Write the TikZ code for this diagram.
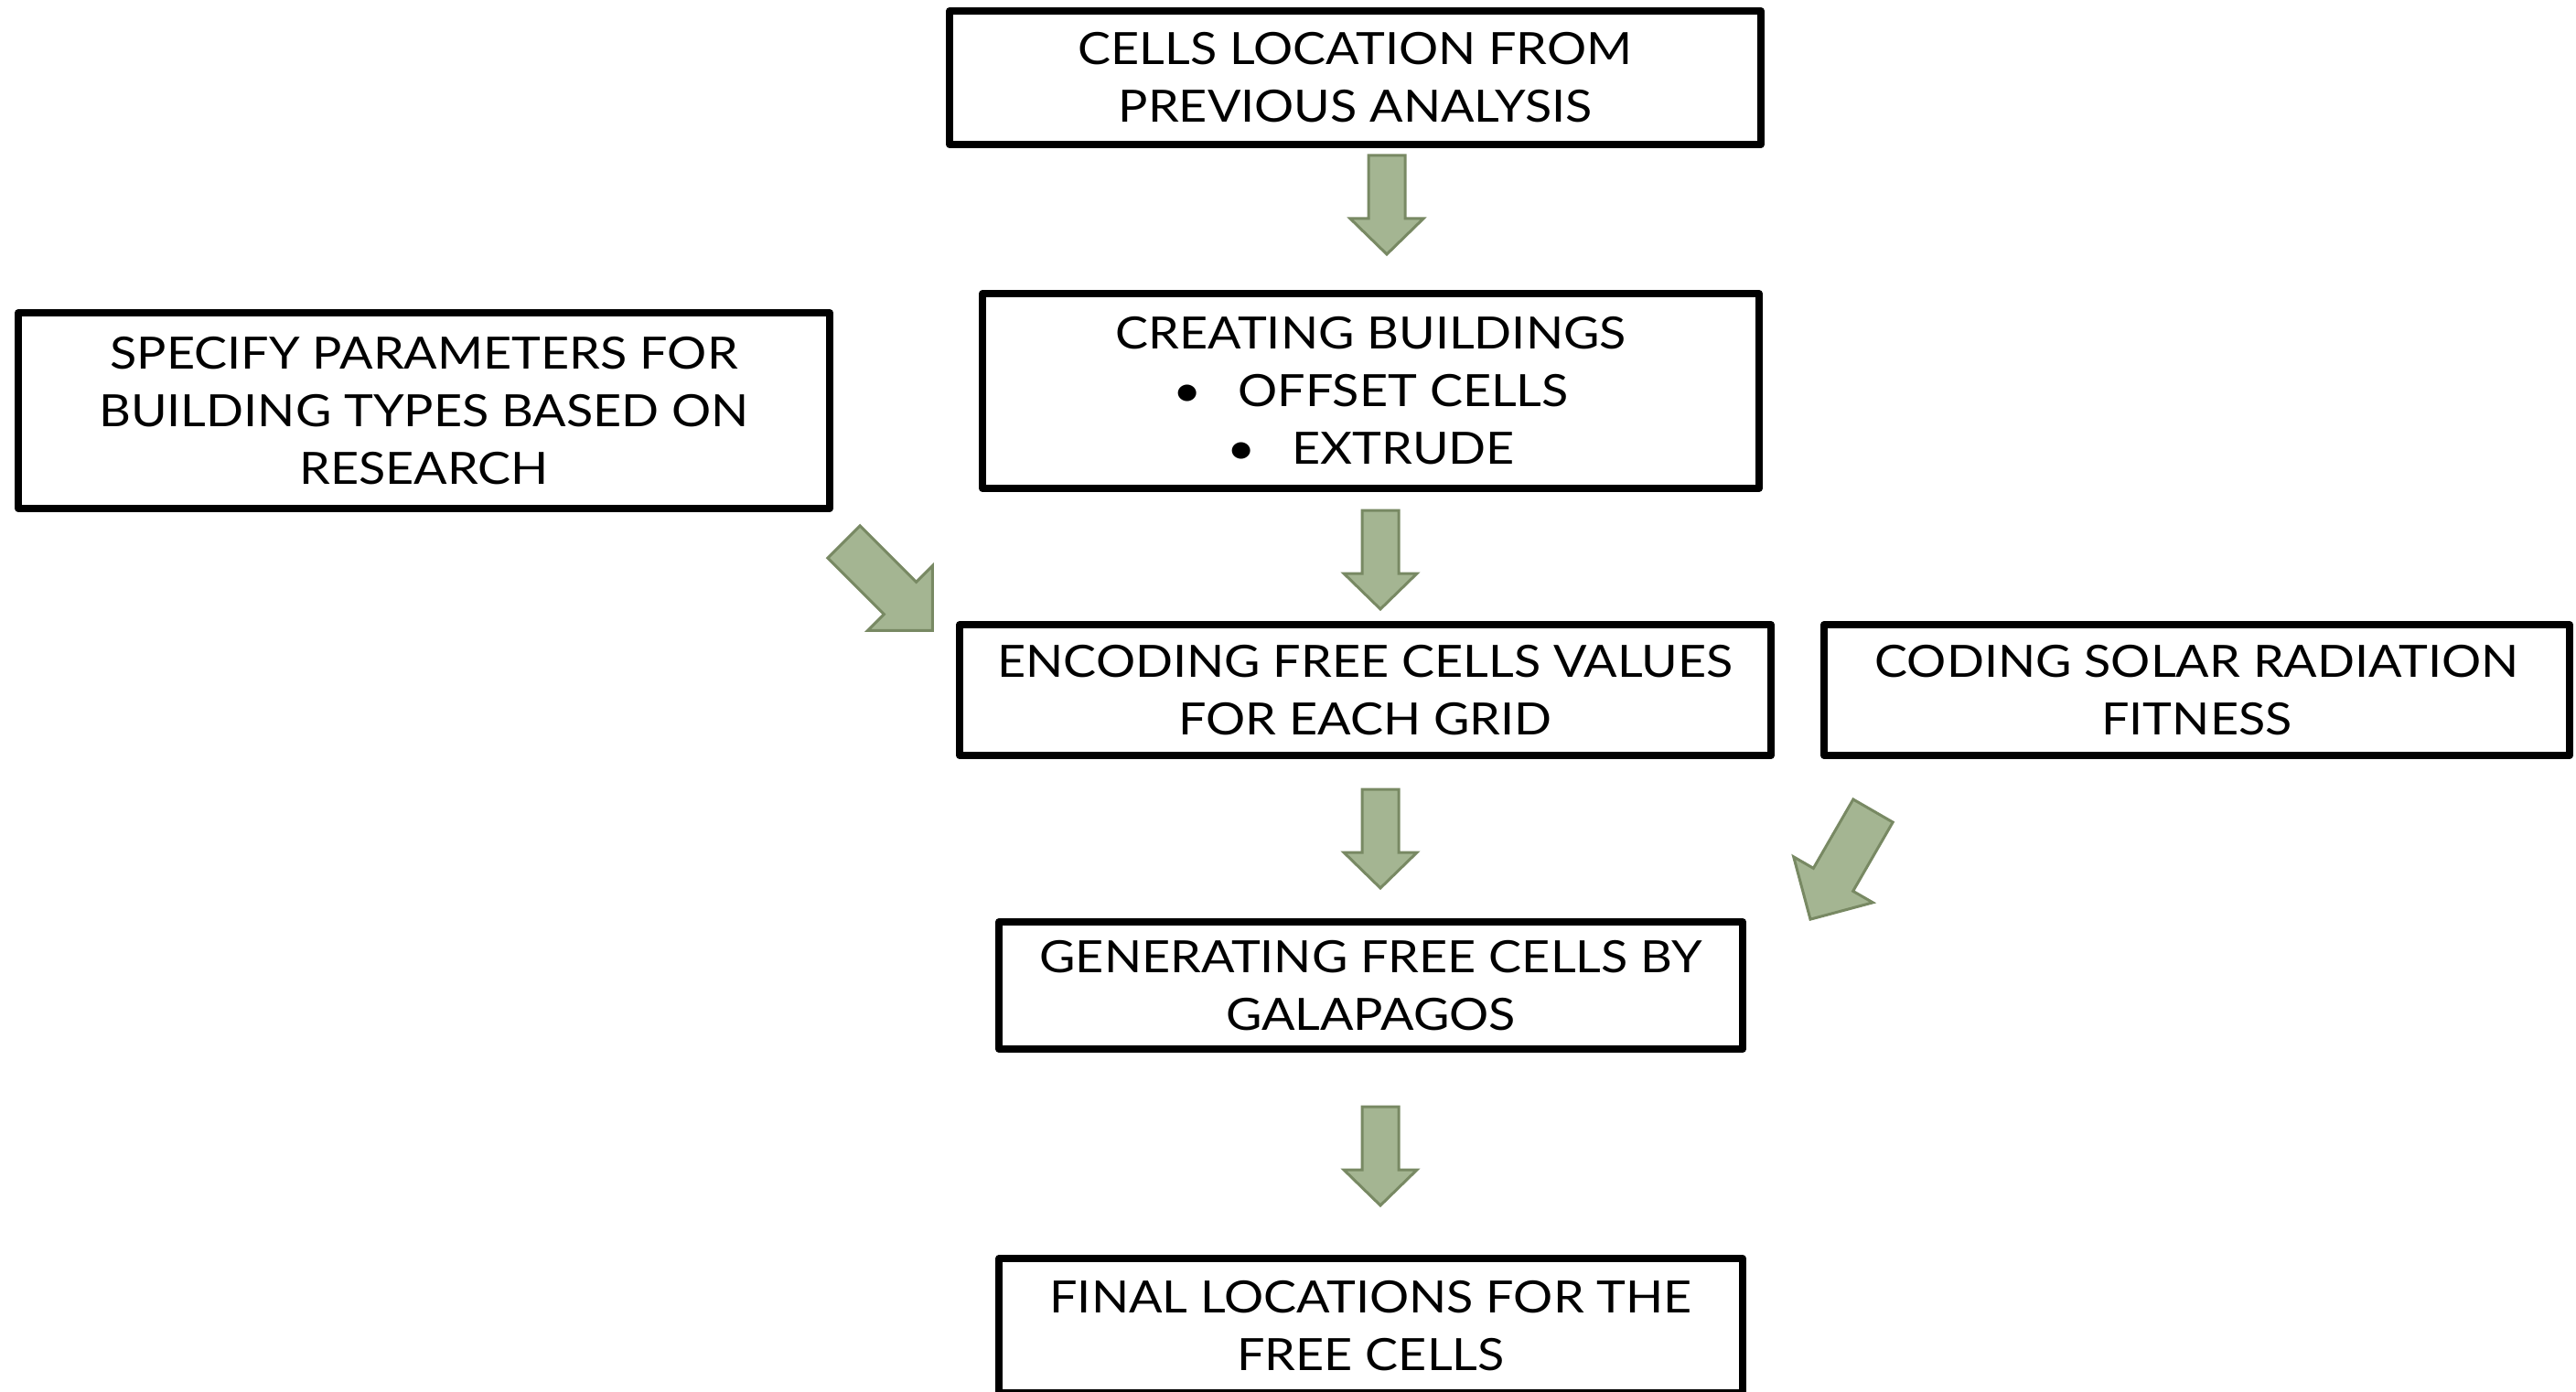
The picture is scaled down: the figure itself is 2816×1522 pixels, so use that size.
\documentclass[tikz,border=0pt]{standalone}
\usepackage{fontspec}
\setmainfont{Lato}[FakeStretch=1.11]
\definecolor{arrowfill}{RGB}{164,181,146}
\definecolor{arrowedge}{RGB}{120,137,99}
\tikzset{
  stepbox/.style={draw=black, line width=8pt, line join=round, rectangle, align=center,
    inner sep=0pt, font=\fontsize{48.6}{63}\selectfont},
  blockarrow/.style={fill=arrowfill, draw=arrowedge, line width=3pt, line join=miter},
  downarrow/.pic={
    \draw[blockarrow] (-20,0) -- (20,0) -- (20,69) -- (40,69) -- (0,108)
      -- (-40,69) -- (-20,69) -- cycle;
  },
  diagarrow/.pic={
    \draw[blockarrow] (-25,0) -- (25,0) -- (25,87) -- (50,87) -- (0,137)
      -- (-50,87) -- (-25,87) -- cycle;
  }
}
\begin{document}
\begin{tikzpicture}[x=1pt, y=-1pt]
\useasboundingbox (0,0) rectangle (2816,1522);

% process boxes
\node[stepbox, minimum width=887, minimum height=146] (cells) at (1481.5,85)
  {CELLS LOCATION FROM\\PREVIOUS ANALYSIS};
\node[stepbox, minimum width=849, minimum height=213] (create) at (1498.5,427.5)
  {CREATING BUILDINGS\\\textbullet\hspace{40pt}OFFSET CELLS\\\textbullet\hspace{40pt}EXTRUDE};
\node[stepbox, minimum width=887, minimum height=214] (params) at (463.5,449)
  {SPECIFY PARAMETERS FOR\\BUILDING TYPES BASED ON\\RESEARCH};
\node[stepbox, minimum width=887, minimum height=143] (encode) at (1492.5,754.5)
  {ENCODING FREE CELLS VALUES\\FOR EACH GRID};
\node[stepbox, minimum width=815, minimum height=143] (solar) at (2401.5,754.5)
  {CODING SOLAR RADIATION\\FITNESS};
\node[stepbox, minimum width=813, minimum height=139] (galapagos) at (1498.5,1077.5)
  {GENERATING FREE CELLS BY\\GALAPAGOS};
\node[stepbox, minimum width=813, minimum height=147] (final) at (1498.5,1449.5)
  {FINAL LOCATIONS FOR THE\\FREE CELLS};

% block arrows
\pic at (1516,170) {downarrow};
\pic at (1509,558) {downarrow};
\pic at (1509,863) {downarrow};
\pic at (1509,1210) {downarrow};
\pic[rotate=45] at (922.5,592.5) {diagarrow};
\pic[rotate=-30] at (2047.5,886.5) {diagarrow};
\end{tikzpicture}
\end{document}
